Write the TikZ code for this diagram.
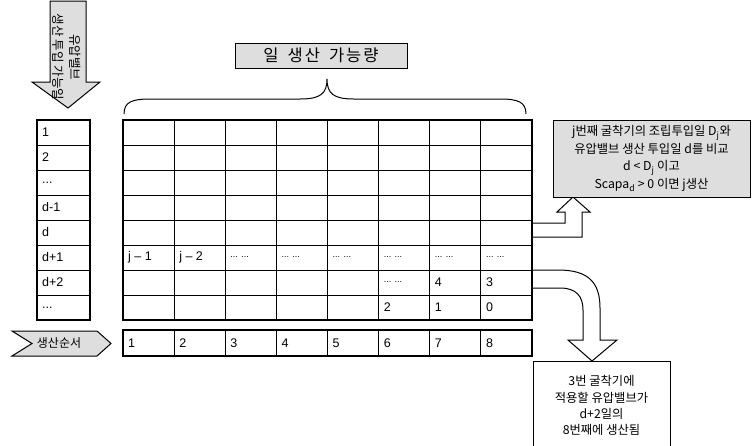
\documentclass[tikz,border=0pt]{standalone}
\usepackage{fontspec}
\setmainfont{Liberation Sans}
\newfontfamily\kr{Noto Sans CJK KR}
\begin{document}
\begin{tikzpicture}[x=1pt,y=-1pt,
  cellline/.style={line width=1pt},
  frame/.style={line width=2pt},
  celltxt/.style={anchor=west, inner sep=0pt, font=\fontsize{12.5}{14}\selectfont},
  dotstxt/.style={anchor=west, inner sep=0pt, font=\fontsize{9}{10}\selectfont},
  shade/.style={fill=black!13, draw=black, line width=1pt},
  blockarrow/.style={fill=white, draw=black, line width=1pt},
  ktext/.style={font=\kr\fontsize{12.5}{17}\selectfont, align=center, inner sep=0pt}]
\useasboundingbox (0,0) rectangle (752,445);

% ---- downward input arrow ----
\draw[shade] (50,1) -- (86,1) -- (86,82) -- (100,82) -- (68,108) -- (32,82) -- (50,82) -- cycle;
\node[ktext, rotate=-90] (inlabel) at (67,57) {유압밸브\\생산 투입 가능일};

% ---- caption and brace ----
\node[shade, minimum width=172pt, minimum height=25pt, font=\kr\fontsize{16.5}{18}\selectfont] (cap) at (321,55.5) {일\hspace{0.55em}생\hspace{0.12em}산\hspace{0.55em}가\hspace{0.12em}능\hspace{0.12em}량};
\draw[line width=1pt] (124,114) .. controls (124,102) and (132,99) .. (150,99) -- (300,99)
   .. controls (320,99) and (327,94) .. (327,79)
   .. controls (327,94) and (334,99) .. (354,99) -- (500,99)
   .. controls (518,99) and (526,102) .. (526,114);

% ---- connectors (block arrows) ----
\coordinate (armA) at (532,223);
\coordinate (armB) at (532,270);
\draw[blockarrow] (armA) -- (565,223) -- (565,212) -- (557,212) -- (573,197) -- (590,212) -- (582,212) -- (582,237) -- (532,237);
\draw[blockarrow] (armB) -- (558,270) .. controls (588,270) and (600,282) .. (600,308) -- (600,340) -- (617,340) -- (592,361) -- (568,340) -- (583,340) -- (583,310) .. controls (583,296) and (576,288) .. (560,288) -- (532,288);

% ---- right info box ----
\node[shade, minimum width=197pt, minimum height=77pt, font=\kr\fontsize{12.3}{17.5}\selectfont, align=center, inner sep=0pt] (cmp) at (651.5,158.5)
  {j번째 굴착기의 조립투입일 D\textsubscript{j}와\\유압밸브 생산 투입일 d를 비교\\d < D\textsubscript{j} 이고\\Scapa\textsubscript{d} > 0 이면 j생산};

% ---- bottom result box ----
\draw[line width=1pt] (533,447) -- (533,361) -- (670,361) -- (670,447);
\node[ktext, font=\kr\fontsize{12.3}{16.2}\selectfont] (res) at (601.5,405.5) {3번 굴착기에\\적용할 유압밸브가\\d+2일의\\8번째에 생산됨};

% ---- left day column ----
\foreach \i in {1,...,7} \draw[cellline] (37,{120+25*\i}) -- (90,{120+25*\i});
\draw[frame] (37,120) rectangle (90,320);
\node[celltxt] (l1) at (42,132.5) {1};
\node[celltxt] (l2) at (42,157.5) {2};
\node[celltxt] (l3) at (42,182.5) {...};
\node[celltxt] (l4) at (42,207.5) {d-1};
\node[celltxt] (l5) at (42,232.5) {d};
\node[celltxt] (l6) at (42,257.5) {d+1};
\node[celltxt] (l7) at (42,282.5) {d+2};
\node[celltxt] (l8) at (42,307.5) {...};

% ---- main grid ----
\foreach \k in {1,...,7} \draw[cellline] ({123+51.125*\k},120) -- ({123+51.125*\k},320);
\foreach \i in {1,...,7} \draw[cellline] (123,{120+25*\i}) -- (532,{120+25*\i});
\draw[frame] (123,120) rectangle (532,320);
\node[celltxt] (g61) at (128,257.5) {j -- 1};
\node[celltxt] (g62) at (179.1,257.5) {j -- 2};
\foreach \k in {2,...,7} \node[dotstxt] (g6\k x) at ({128+51.125*\k},257.5) {... ...};
\node[dotstxt] (g76) at (383.6,282.5) {... ...};
\node[celltxt] (g77) at (434.75,282.5) {4};
\node[celltxt] (g78) at (485.9,282.5) {3};
\node[celltxt] (g86) at (383.6,307.5) {2};
\node[celltxt] (g87) at (434.75,307.5) {1};
\node[celltxt] (g88) at (485.9,307.5) {0};

% ---- production order row ----
\draw[shade] (12,331) -- (97,331) -- (111,343.5) -- (97,356) -- (12,356) -- (32,343.5) -- cycle;
\node[font=\kr\fontsize{12}{13}\selectfont, inner sep=0pt] (ord) at (59,343.5) {생산순서};
\foreach \k in {1,...,7} \draw[cellline] ({123+51.125*\k},330) -- ({123+51.125*\k},356);
\draw[frame] (123,330) rectangle (532,356);
\foreach \k in {1,...,8} \node[celltxt] (b\k) at ({128+51.125*(\k-1)},343.5) {\k};
\end{tikzpicture}
\end{document}
